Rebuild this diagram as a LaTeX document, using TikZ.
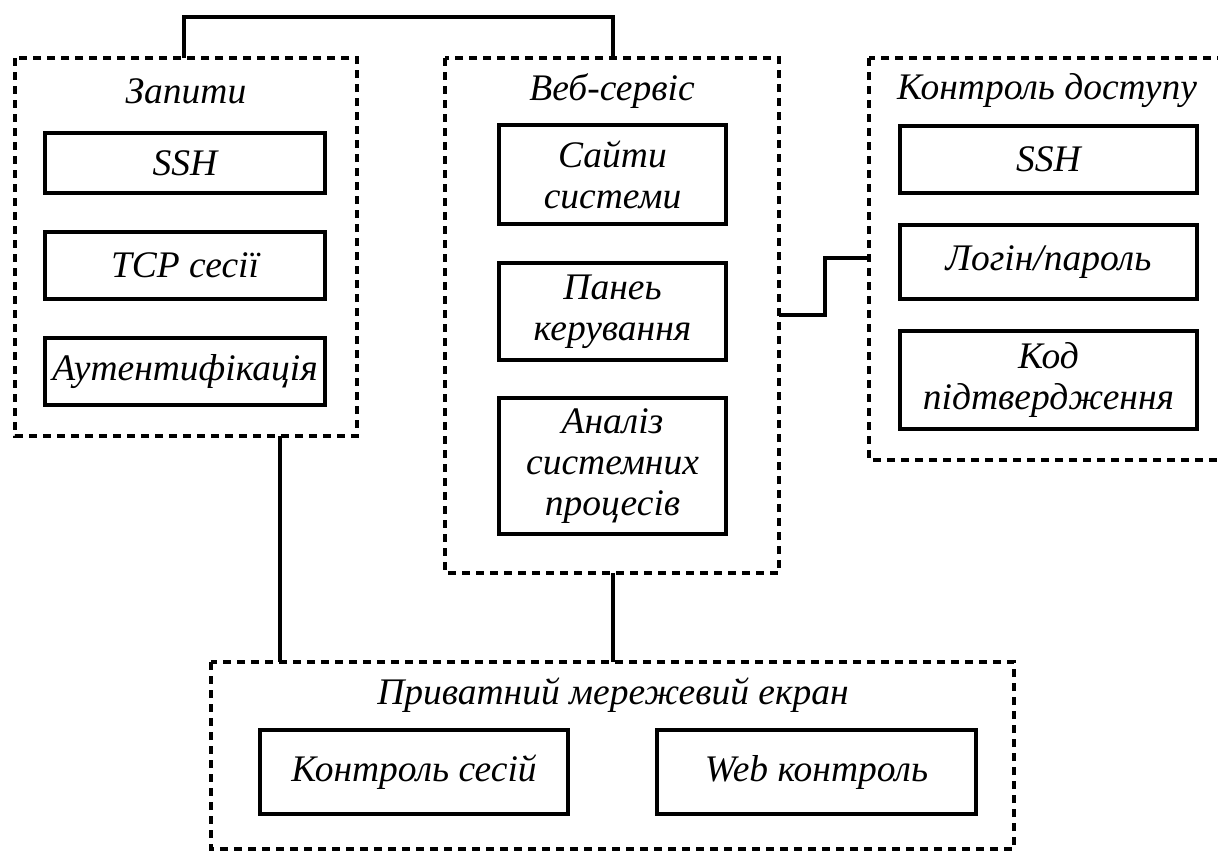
\documentclass[tikz,border=0pt]{standalone}
\usepackage{fontspec}
\setmainfont{Liberation Serif}
\begin{document}
\begin{tikzpicture}[x=1pt,y=-1pt,
  txt/.style={font=\fontsize{37.5}{41}\selectfont\itshape, align=center},
  grp/.style={draw, line width=3.1pt, dash pattern=on 8pt off 6pt},
  item/.style={draw, line width=3.1pt, txt, inner sep=0pt},
  conn/.style={line width=3.1pt}]
\useasboundingbox (0,0) rectangle (1218,852);
\clip (0,0) rectangle (1218,852);
% groups
\draw[grp] (15,58) rectangle (357,436);
\coordinate (g1top) at (184,58);
\coordinate (g1bot) at (280,436);
\draw[grp] (445,58) rectangle (779,573);
\coordinate (g2top) at (613,58);
\coordinate (g2bot) at (613,573);
\coordinate (g2right) at (779,315);
\draw[grp] (869,58) rectangle (1240,460);
\coordinate (g3left) at (869,258);
\draw[grp] (211,662) rectangle (1014,849);
\coordinate (g4a) at (280,662);
\coordinate (g4b) at (613,662);
% titles
\node[txt] (t1) at (186,91) {Запити};
\node[txt] (t2) at (612,91) {Веб-сервіс};
\node[txt] (t3) at (1047,91) {Контроль доступу};
\node[txt] (t4) at (613,695) {Приватний мережевий екран};
% items
\node[item, minimum width=280pt, minimum height=60pt] (a1) at (185,163) {SSH};
\node[item, minimum width=280pt, minimum height=67pt] (a2) at (185,265.5) {TCP сесії};
\node[item, minimum width=280pt, minimum height=67pt] (a3) at (185,371.5) {Аутентифікація};
\node[item, minimum width=227pt, minimum height=99pt] (b1) at (612.5,174.5) {Сайти\\системи};
\node[item, minimum width=227pt, minimum height=97pt] (b2) at (612.5,311.5) {Панеь\\керування};
\node[item, minimum width=227pt, minimum height=136pt] (b3) at (612.5,466) {Аналіз\\системних\\процесів};
\node[item, minimum width=297pt, minimum height=67pt] (c1) at (1048.5,159.5) {SSH};
\node[item, minimum width=297pt, minimum height=74pt] (c2) at (1048.5,262) {Логін/пароль};
\node[item, minimum width=297pt, minimum height=98pt] (c3) at (1048.5,380) {Код\\підтвердження};
\node[item, minimum width=308pt, minimum height=84pt] (d1) at (414,772) {Контроль сесій};
\node[item, minimum width=319pt, minimum height=84pt] (d2) at (816.5,772) {Web контроль};
% connectors
\draw[conn] (g1top) -- ++(0,-41) -| (g2top);
\draw[conn] (g2right) -- (825,315) |- (g3left);
\draw[conn] (g1bot) -- (g4a);
\draw[conn] (g2bot) -- (g4b);
\end{tikzpicture}
\end{document}
